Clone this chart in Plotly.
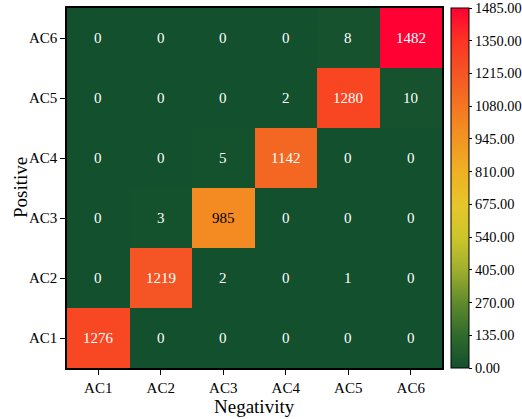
import plotly.graph_objects as go

labels = ["AC1", "AC2", "AC3", "AC4", "AC5", "AC6"]
# rows: Positive AC1..AC6 (bottom to top), columns: Negativity AC1..AC6
z = [
    [1276, 0, 0, 0, 0, 0],
    [0, 1219, 2, 0, 1, 0],
    [0, 3, 985, 0, 0, 0],
    [0, 0, 5, 1142, 0, 0],
    [0, 0, 0, 2, 1280, 10],
    [0, 0, 0, 0, 8, 1482],
]
cb_ticks = [0, 135, 270, 405, 540, 675, 810, 945, 1080, 1215, 1350, 1485]
x_title = "Negativity"
y_title = "Positive"

colorscale = [
    [0.0, "#13502d"],
    [0.09, "#2f6a2c"],
    [0.18, "#5f8a2c"],
    [0.27, "#9eae2e"],
    [0.36, "#cbc52a"],
    [0.45, "#e6c72a"],
    [0.55, "#efb023"],
    [0.64, "#f39322"],
    [0.73, "#f47522"],
    [0.82, "#f55524"],
    [0.91, "#fc3422"],
    [1.0, "#ff0033"],
]

FONT = "Liberation Serif"

fig = go.Figure(
    go.Heatmap(
        z=z,
        x=labels,
        y=labels,
        zmin=0,
        zmax=1485,
        colorscale=colorscale,
        showscale=True,
        colorbar=dict(
            x=1.024,
            xanchor="left",
            xpad=0,
            ypad=0,
            y=0.5,
            len=1.0,
            thickness=18,
            tickvals=cb_ticks,
            ticktext=[f"{v:.2f}" for v in cb_ticks],
            ticks="outside",
            ticklen=3,
            tickcolor="black",
            outlinecolor="black",
            outlinewidth=1,
            tickfont=dict(family=FONT, size=14.4, color="black"),
        ),
    )
)

annotations = []
for i, row in enumerate(z):
    for j, v in enumerate(row):
        color = "black" if 600 < v < 1100 else "white"
        annotations.append(
            dict(
                x=labels[j],
                y=labels[i],
                text=str(v),
                showarrow=False,
                font=dict(family=FONT, size=15, color=color),
            )
        )

annotations.append(
    dict(
        text=x_title, xref="paper", yref="paper", x=0.5, y=-0.108,
        xanchor="center", yanchor="middle", showarrow=False,
        font=dict(family=FONT, size=19, color="black"),
    )
)
annotations.append(
    dict(
        text=y_title, xref="paper", yref="paper", x=-0.1253, y=0.5,
        xanchor="center", yanchor="middle", textangle=-90, showarrow=False,
        font=dict(family=FONT, size=19, color="black"),
    )
)

fig.update_layout(
    width=522,
    height=419,
    margin=dict(l=67, r=80, t=8, b=51, autoexpand=False),
    paper_bgcolor="white",
    plot_bgcolor="white",
    font=dict(family=FONT, color="black"),
    annotations=annotations,
)
fig.update_xaxes(
    tickfont=dict(family=FONT, size=15),
    showline=True,
    linecolor="black",
    linewidth=1.5,
    mirror=True,
    ticks="outside",
    ticklen=5,
    tickcolor="black",
)
fig.update_yaxes(
    tickfont=dict(family=FONT, size=15),
    showline=True,
    linecolor="black",
    linewidth=1.5,
    mirror=True,
    ticks="outside",
    ticklen=5,
    tickcolor="black",
)

fig.write_html(
    "out.html",
    config={"displayModeBar": False},
    post_script="document.body.style.margin='0';document.body.style.padding='0';",
)
